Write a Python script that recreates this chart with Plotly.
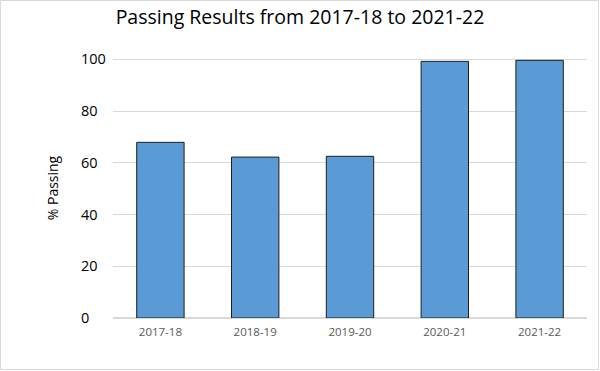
import plotly.graph_objects as go

years = ["2017-18", "2018-19", "2019-20", "2020-21", "2021-22"]
passing = [67.9, 62.2, 62.5, 99.2, 99.6]
y_ticks = [0, 20, 40, 60, 80, 100]
y_range = [0, 100.5]

W, H = 600, 371
T, B = 58, 53
X0, X1 = 113, 587          # plot area left/right in px
LABEL_X = 77               # left edge of y tick labels in px
ph = H - T - B

fig = go.Figure()
fig.add_trace(go.Bar(
    x=years, y=passing, width=0.5,
    marker=dict(color="#5b9bd5", line=dict(color="#1f1f1f", width=1)),
))
# empty trace so the label axis is drawn
fig.add_trace(go.Scatter(x=[], y=[], yaxis="y2", showlegend=False, hoverinfo="skip"))

fig.update_layout(
    width=W, height=H,
    margin=dict(l=0, r=0, t=T, b=B),
    paper_bgcolor="white", plot_bgcolor="white",
    showlegend=False,
    title=dict(text="Passing Results from 2017-18 to 2021-22",
               x=0.5, xanchor="center", y=1 - 17 / H, yanchor="middle",
               font=dict(family="Open Sans", size=19.5, color="#000000")),
    xaxis=dict(domain=[X0 / W, X1 / W], showgrid=False, showline=True,
               linecolor="#d9d9d9", linewidth=1, ticks="", ticklabelstandoff=3,
               tickfont=dict(family="Open Sans", size=11.5, color="#595959")),
    yaxis=dict(range=y_range, tickvals=y_ticks, showgrid=True, gridcolor="#d9d9d9",
               zeroline=True, zerolinecolor="#d9d9d9", showline=False, ticks="",
               showticklabels=False,
               title=dict(text="% Passing", standoff=50,
                          font=dict(family="Open Sans", size=14, color="#000000"))),
    yaxis2=dict(range=y_range, tickvals=y_ticks, overlaying="y", anchor="free",
                position=LABEL_X / W, side="left", ticklabelposition="inside",
                ticklabeloverflow="allow",
                showgrid=False, zeroline=False,
                showline=False, ticks="", ticklabelstandoff=0,
                tickfont=dict(family="Open Sans", size=14.5, color="#000000")),
    bargap=0.5,
    shapes=[dict(type="rect", xref="paper", yref="paper",
                 x0=0.5 / W, x1=1 - 1.5 / W,
                 y0=-(B - 1.5) / ph, y1=1 + (T - 0.5) / ph,
                 line=dict(color="#d9d9d9", width=1), layer="below")],
)

fig.write_html("out.html", config={"displayModeBar": False},
               post_script="document.body.style.margin='0';document.body.style.overflow='hidden';")
